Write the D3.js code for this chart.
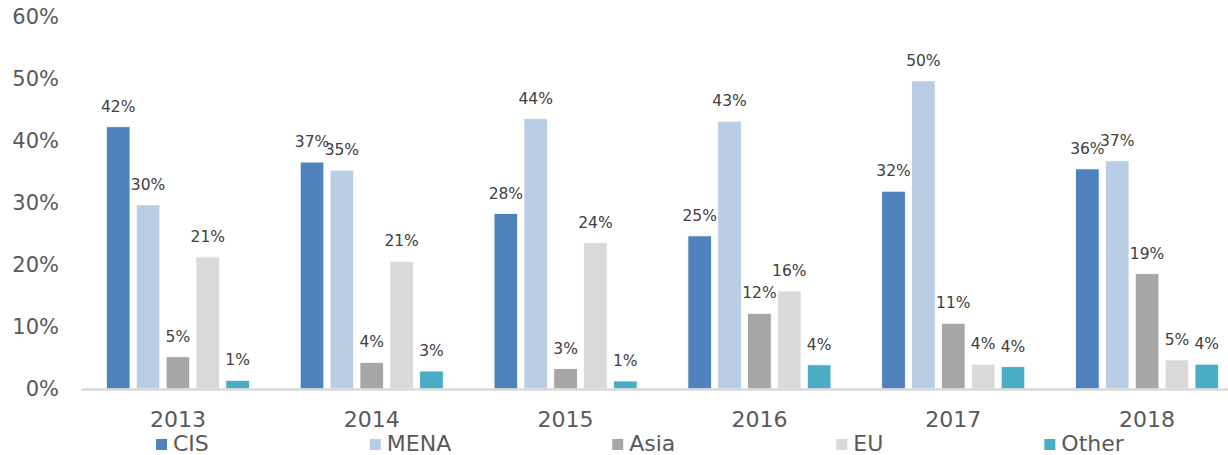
<!DOCTYPE html>
<html>
<head>
<meta charset="utf-8">
<script src="https://cdn.jsdelivr.net/npm/d3@7"></script>
<style>
  body { margin: 0; background: #fff; }
  svg { display: block; font-family: "DejaVu Sans", Verdana, sans-serif; }
</style>
</head>
<body>
<div id="container"></div>
<script>
/* DATA */
const years = ["2013", "2014", "2015", "2016", "2017", "2018"];
const series = ["CIS", "MENA", "Asia", "EU", "Other"];
const cis   = [0.423, 0.366, 0.283, 0.247, 0.319, 0.355];
const mena  = [0.297, 0.353, 0.436, 0.432, 0.497, 0.368];
const asia  = [0.052, 0.043, 0.033, 0.122, 0.106, 0.186];
const eu    = [0.213, 0.206, 0.236, 0.158, 0.040, 0.047];
const other = [0.014, 0.029, 0.013, 0.039, 0.036, 0.040];
const yTicks = [0, 0.1, 0.2, 0.3, 0.4, 0.5, 0.6];

const colors = ["#4f81bd", "#b9cde5", "#a6a6a6", "#d9d9d9", "#4bacc6"];

/* CONSTANTS */
const width = 1228, height = 455;
const valuesBySeries = [cis, mena, asia, eu, other];

const rows = years.map((y, i) => ({
  year: y,
  vals: series.map((s, j) => ({ key: s, value: valuesBySeries[j][i] }))
}));

const svg = d3.select("#container")
  .append("svg")
  .attr("width", width)
  .attr("height", height);

// scales
const x0 = d3.scaleBand()
  .domain(years)
  .range([81, 1244])
  .paddingInner(0.262)
  .paddingOuter(0.131);

const x1 = d3.scaleBand()
  .domain(series)
  .range([0, x0.bandwidth()])
  .paddingInner(0.21);

const yScale = d3.scaleLinear()
  .domain([0, 0.6])
  .range([389, 17]);

const colorScale = d3.scaleOrdinal().domain(series).range(colors);
const fmt = d3.format(".0%");

// y axis (labels only)
const yAxis = d3.axisLeft(yScale)
  .tickValues(yTicks)
  .tickFormat(fmt)
  .tickSize(0)
  .tickPadding(0);

svg.append("g")
  .attr("transform", "translate(59,0)")
  .call(yAxis)
  .call(g => g.select(".domain").remove())
  .selectAll(".tick text")
  .attr("font-size", "21px")
  .attr("font-family", "DejaVu Sans, Verdana, sans-serif")
  .attr("fill", "#595959");

// bars
const groups = svg.selectAll("g.year")
  .data(rows)
  .join("g")
  .attr("class", "year")
  .attr("transform", d => `translate(${x0(d.year)},0)`);

groups.selectAll("rect.bar")
  .data(d => d.vals)
  .join("rect")
  .attr("class", "bar")
  .attr("x", d => x1(d.key))
  .attr("y", d => yScale(d.value))
  .attr("width", x1.bandwidth())
  .attr("height", d => yScale(0) - yScale(d.value))
  .attr("fill", d => colorScale(d.key))
  .attr("stroke", "#ffffff")
  .attr("stroke-width", 0.8);

// data labels
groups.selectAll("text.lbl")
  .data(d => d.vals)
  .join("text")
  .attr("class", "lbl")
  .attr("x", d => x1(d.key) + x1.bandwidth() / 2)
  .attr("y", d => yScale(d.value) - 15)
  .attr("text-anchor", "middle")
  .attr("font-size", "15.5px")
  .attr("fill", "#404040")
  .text(d => fmt(d.value));

// x axis
const xAxis = d3.axisBottom(x0).tickSize(0).tickPadding(0);

svg.append("g")
  .attr("transform", "translate(0,389)")
  .call(xAxis)
  .call(g => g.select(".domain")
    .attr("stroke", "#d9d9d9")
    .attr("stroke-width", 2.5))
  .selectAll(".tick text")
  .attr("y", 38)
  .attr("dy", 0)
  .attr("font-size", "22px")
  .attr("font-family", "DejaVu Sans, Verdana, sans-serif")
  .attr("fill", "#595959");

// legend
const legend = svg.append("g").attr("class", "legend");
let lx = 156;
series.forEach(s => {
  const item = legend.append("g").attr("transform", `translate(${lx},0)`);
  item.append("rect")
    .attr("x", 0)
    .attr("y", 439)
    .attr("width", 11)
    .attr("height", 11)
    .attr("fill", colorScale(s));
  const t = item.append("text")
    .attr("x", 17)
    .attr("y", 451)
    .attr("font-size", "22px")
    .attr("fill", "#595959")
    .text(s);
  lx += 17 + t.node().getComputedTextLength() + 161;
});
</script>
</body>
</html>
